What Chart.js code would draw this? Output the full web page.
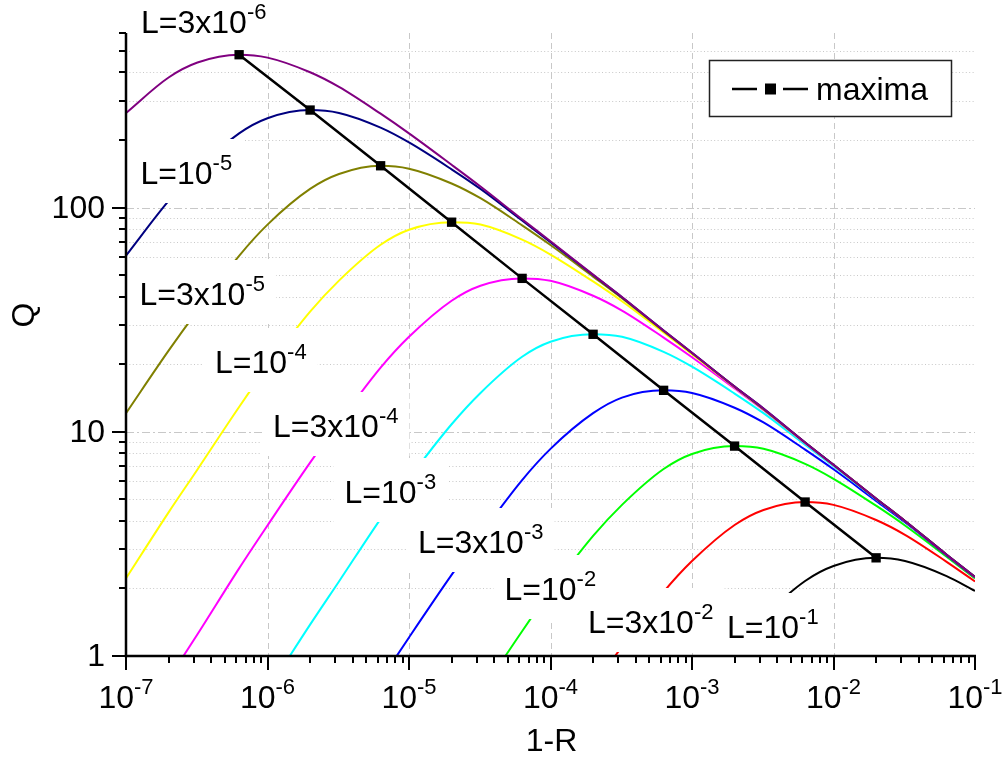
<!DOCTYPE html>
<html>
<head>
<meta charset="utf-8">
<title>Q versus 1-R</title>
<script src="https://cdn.jsdelivr.net/npm/chart.js@4.4.0/dist/chart.umd.min.js"></script>
<style>
  html, body { margin: 0; padding: 0; background: #ffffff; }
  canvas { display: block; }
</style>
</head>
<body>
<canvas id="q-chart" width="1005" height="761"></canvas>
<script>
// 1-R sample points shared by every loss curve
const oneMinusR = [1e-7, 2e-7, 3.2e-7, 6.3e-7, 1e-6, 2e-6, 3.2e-6, 6.3e-6, 1e-5, 2e-5, 3.2e-5, 6.3e-5,
                   1e-4, 2e-4, 3.2e-4, 6.3e-4, 1e-3, 2e-3, 3.2e-3, 6.3e-3, 1e-2, 2e-2, 3.2e-2, 6.3e-2, 1e-1];

// Q for each loss L (null = below the plotted range)
const qL3e6 = [264, 380, 443, 480, 466, 401, 345, 262, 214, 155, 124, 88.6, 70.7, 50.2, 39.9, 28.3, 22.5, 15.9, 12.7, 8.95, 7.12, 5.04, 4.0, 2.83, 2.25];
const qL1e5 = [61, 107, 148, 214, 250, 272, 264, 227, 195, 148, 121, 87.5, 70.1, 50.0, 39.8, 28.3, 22.5, 15.9, 12.7, 8.96, 7.12, 5.03, 4.0, 2.83, 2.25];
const qL3e5 = [12.1, 23.0, 34.7, 60.9, 83.9, 121, 141, 153.5, 149, 128, 110, 83.2, 68.0, 49.2, 39.4, 28.1, 22.4, 15.9, 12.6, 8.95, 7.12, 5.04, 4.0, 2.83, 2.25];
const qL1e4 = [2.22, 4.37, 6.79, 12.9, 19.5, 34.3, 47.2, 68.2, 79.6, 86.0, 83.9, 71.9, 61.7, 46.8, 38.2, 27.7, 22.2, 15.8, 12.6, 8.94, 7.11, 5.03, 4.0, 2.83, 2.25];
const qL3e4 = [null, 0.79, 1.25, 2.46, 3.82, 7.28, 11.0, 19.3, 26.5, 38.4, 44.8, 48.3, 47.1, 40.4, 34.7, 26.3, 21.5, 15.6, 12.5, 8.89, 7.09, 5.03, 4.0, 2.83, 2.25];
const qL1e3 = [null, null, null, null, 0.70, 1.38, 2.15, 4.09, 6.17, 10.8, 14.9, 21.6, 25.2, 27.2, 26.5, 22.7, 19.5, 14.8, 12.1, 8.75, 7.02, 5.0, 3.99, 2.83, 2.25];
const qL3e3 = [null, null, null, null, null, null, null, 0.78, 1.21, 2.30, 3.47, 6.09, 8.39, 12.1, 14.2, 15.3, 14.9, 12.8, 11.0, 8.32, 6.80, 4.92, 3.95, 2.81, 2.24];
const qL1e2 = [null, null, null, null, null, null, null, null, null, null, 0.68, 1.29, 1.95, 3.43, 4.72, 6.82, 7.96, 8.63, 8.39, 7.19, 6.17, 4.68, 3.82, 2.77, 2.22];
const qL3e2 = [null, null, null, null, null, null, null, null, null, null, null, null, null, 0.73, 1.10, 1.93, 2.65, 3.84, 4.48, 4.86, 4.72, 4.04, 3.47, 2.63, 2.15];
const qL1e1 = [null, null, null, null, null, null, null, null, null, null, null, null, null, null, null, null, 0.62, 1.08, 1.49, 2.16, 2.52, 2.74, 2.65, 2.27, 1.95];

// peak of each curve
const maximaX = [6.3e-7, 2e-6, 6.3e-6, 2e-5, 6.3e-5, 2e-4, 6.3e-4, 2e-3, 6.3e-3, 2e-2];
const maximaQ = [480, 272, 153.5, 86.0, 48.3, 27.2, 15.3, 8.63, 4.86, 2.74];

// curve captions: "L=" mantissa + superscript exponent
const lossMantissa = ['L=3x10', 'L=10', 'L=3x10', 'L=10', 'L=3x10', 'L=10', 'L=3x10', 'L=10', 'L=3x10', 'L=10'];
const lossExponent = ['-6', '-5', '-5', '-4', '-4', '-3', '-3', '-2', '-2', '-1'];

// axis ticks
const xTickExponents = [-7, -6, -5, -4, -3, -2, -1];
const yTickValues = [1, 10, 100];
const yTickLabels = ['1', '10', '100'];

const curveSeries = [qL3e6, qL1e5, qL3e5, qL1e4, qL3e4, qL1e3, qL3e3, qL1e2, qL3e2, qL1e1];
const curveColors = ['#800080', '#000080', '#808000', '#ffff00', '#ff00ff', '#00ffff', '#0000ff', '#00ff00', '#ff0000', '#000000'];

// caption anchor (text origin x, baseline y) in canvas pixels
const captionAnchors = [[141, 33], [140.5, 184], [139.5, 305], [215, 373], [273, 437],
                        [344.5, 503], [418, 553], [504.5, 600], [588, 633], [727, 638]];

const FONT = '"Liberation Sans", Arial, Helvetica, sans-serif';
const MAIN_SIZE = 32;
const SUP_SIZE = 22;
const SUP_RISE = 14;

function toPoints(values) {
    return oneMinusR.map((x, i) => ({ x: x, y: values[i] })).filter(p => p.y !== null);
}

function measurePower(ctx, base, exp) {
    ctx.font = MAIN_SIZE + 'px ' + FONT;
    const wb = ctx.measureText(base).width;
    ctx.font = SUP_SIZE + 'px ' + FONT;
    const we = ctx.measureText(exp).width;
    return { base: wb, exp: we, total: wb + we };
}

function drawPower(ctx, left, baseline, base, exp) {
    const w = measurePower(ctx, base, exp);
    ctx.textAlign = 'left';
    ctx.textBaseline = 'alphabetic';
    ctx.fillStyle = '#000';
    ctx.font = MAIN_SIZE + 'px ' + FONT;
    ctx.fillText(base, left, baseline);
    ctx.font = SUP_SIZE + 'px ' + FONT;
    ctx.fillText(exp, left + w.base, baseline - SUP_RISE);
    return w.total;
}

function hLine(ctx, x1, x2, y) {
    ctx.beginPath();
    ctx.moveTo(x1, y);
    ctx.lineTo(x2, y);
    ctx.stroke();
}

function vLine(ctx, x, y1, y2) {
    ctx.beginPath();
    ctx.moveTo(x, y1);
    ctx.lineTo(x, y2);
    ctx.stroke();
}

function minorValues(decades) {
    const out = [];
    decades.forEach(d => {
        for (let m = 2; m <= 9; m++) out.push(m * d);
    });
    return out;
}

function drawGrid(chart) {
    const ctx = chart.ctx;
    const area = chart.chartArea;
    const xs = chart.scales.x;
    const ys = chart.scales.y;
    ctx.save();
    ctx.lineWidth = 1;
    ctx.strokeStyle = '#c8c8c8';

    ctx.setLineDash([1, 2.4]);
    minorValues([1, 10, 100]).filter(v => v < 600).forEach(v => {
        const y = Math.round(ys.getPixelForValue(v)) + 0.5;
        hLine(ctx, area.left, area.right, y);
    });

    ctx.setLineDash([8, 3, 2, 3]);
    [10, 100].forEach(v => {
        const y = Math.round(ys.getPixelForValue(v)) + 0.5;
        hLine(ctx, area.left, area.right, y);
    });

    ctx.setLineDash([6, 4]);
    xTickExponents.slice(1, -1).forEach(e => {
        const x = Math.round(xs.getPixelForValue(Math.pow(10, e))) + 0.5;
        vLine(ctx, x, area.top, area.bottom);
    });
    ctx.restore();
}

function drawCaptions(chart) {
    const ctx = chart.ctx;
    ctx.save();
    captionAnchors.forEach((pos, i) => {
        const w = measurePower(ctx, lossMantissa[i], lossExponent[i]);
        ctx.fillStyle = '#ffffff';
        ctx.fillRect(pos[0] - 11, pos[1] - 45, w.total + 22, 64);
        drawPower(ctx, pos[0], pos[1], lossMantissa[i], lossExponent[i]);
    });
    ctx.restore();
}

function drawAxes(chart) {
    const ctx = chart.ctx;
    const area = chart.chartArea;
    const xs = chart.scales.x;
    const ys = chart.scales.y;
    ctx.save();
    ctx.strokeStyle = '#000';
    ctx.lineCap = 'butt';

    // tick marks
    ctx.lineWidth = 2;
    xTickExponents.forEach(e => {
        const x = Math.round(xs.getPixelForValue(Math.pow(10, e)));
        vLine(ctx, x, area.bottom, area.bottom + 14);
    });
    minorValues(xTickExponents.slice(0, -1).map(e => Math.pow(10, e))).forEach(v => {
        const x = Math.round(xs.getPixelForValue(v));
        vLine(ctx, x, area.bottom, area.bottom + 7);
    });
    yTickValues.forEach(v => {
        const y = Math.round(ys.getPixelForValue(v));
        hLine(ctx, area.left - 14, area.left, y);
    });
    minorValues([1, 10, 100]).filter(v => v <= 600).forEach(v => {
        const y = Math.round(ys.getPixelForValue(v));
        hLine(ctx, area.left - 7, area.left, y);
    });

    // axis lines
    ctx.lineWidth = 2.5;
    vLine(ctx, area.left, area.top, area.bottom + 1.2);
    hLine(ctx, area.left - 1.2, area.right + 1, area.bottom);

    // tick labels
    ctx.fillStyle = '#000';
    xTickExponents.forEach(e => {
        const x = xs.getPixelForValue(Math.pow(10, e));
        const w = measurePower(ctx, '10', String(e));
        drawPower(ctx, x - w.total / 2, area.bottom + 52, '10', String(e));
    });
    ctx.font = MAIN_SIZE + 'px ' + FONT;
    ctx.textAlign = 'right';
    ctx.textBaseline = 'alphabetic';
    yTickValues.forEach((v, i) => {
        const y = ys.getPixelForValue(v);
        ctx.fillText(yTickLabels[i], area.left - 21, y + 10);
    });

    // axis titles
    ctx.textAlign = 'center';
    ctx.fillText('1-R', (area.left + area.right) / 2 + 1, 751);
    ctx.translate(34, 315);
    ctx.rotate(-Math.PI / 2);
    ctx.fillText('Q', 0, 0);
    ctx.restore();
}

function drawLegendBox(chart) {
    const ctx = chart.ctx;
    ctx.save();
    ctx.fillStyle = '#ffffff';
    ctx.fillRect(709, 60, 243, 57);
    ctx.strokeStyle = '#222';
    ctx.lineWidth = 1.5;
    ctx.strokeRect(709.5, 60.5, 242, 56);

    ctx.strokeStyle = '#000';
    ctx.lineWidth = 2.5;
    hLine(ctx, 732, 757, 89);
    hLine(ctx, 783, 808, 89);
    ctx.fillStyle = '#000';
    ctx.fillRect(765, 83.5, 11, 11);

    ctx.font = MAIN_SIZE + 'px ' + FONT;
    ctx.textAlign = 'left';
    ctx.textBaseline = 'alphabetic';
    ctx.fillText('maxima', 816, 100);
    ctx.restore();
}

const decorations = {
    id: 'decorations',
    beforeDatasetsDraw(chart) {
        drawGrid(chart);
    },
    beforeDatasetDraw(chart, args) {
        // captions sit over the loss curves but under the maxima line
        if (args.index === 0) drawCaptions(chart);
    },
    afterDraw(chart) {
        drawAxes(chart);
        drawLegendBox(chart);
    }
};

const datasets = [{
    label: 'maxima',
    data: maximaX.map((x, i) => ({ x: x, y: maximaQ[i] })),
    borderColor: '#000',
    backgroundColor: '#000',
    borderWidth: 2.5,
    tension: 0,
    pointStyle: 'rect',
    pointRadius: 6.6,
    pointBorderWidth: 0,
    pointBackgroundColor: '#000'
}];

curveSeries.forEach((values, i) => {
    datasets.push({
        label: lossMantissa[i] + '^' + lossExponent[i],
        data: toPoints(values),
        borderColor: curveColors[i],
        borderWidth: 2,
        pointRadius: 0,
        fill: false,
        cubicInterpolationMode: 'monotone'
    });
});

new Chart(document.getElementById('q-chart').getContext('2d'), {
    type: 'line',
    data: { datasets: datasets },
    options: {
        responsive: false,
        animation: false,
        layout: { padding: { left: 126, right: 30, top: 33, bottom: 105 } },
        plugins: {
            legend: { display: false },
            tooltip: { enabled: false }
        },
        scales: {
            x: { type: 'logarithmic', min: 1e-7, max: 1e-1, display: false },
            y: { type: 'logarithmic', min: 1, max: 600, display: false }
        }
    },
    plugins: [decorations]
});
</script>
</body>
</html>
